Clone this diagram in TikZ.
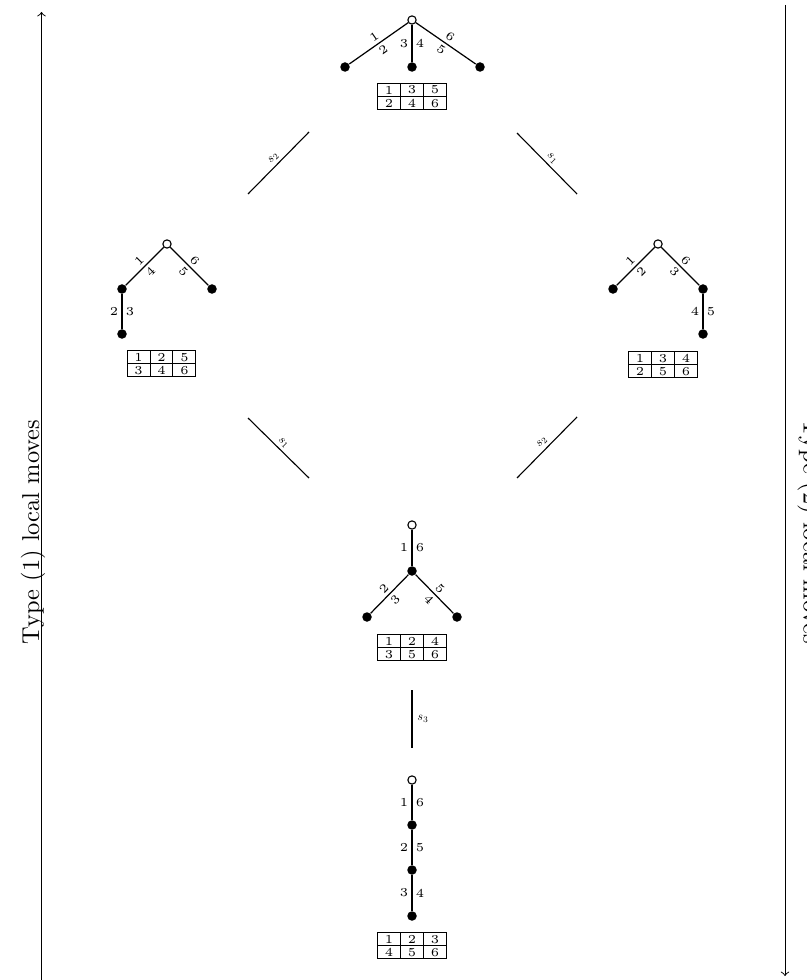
\documentclass[tikz,border=0pt]{standalone}
\usetikzlibrary{matrix}
\begin{document}
\begin{tikzpicture}[x=0.41pt,y=-0.41pt,
  wnode/.style={circle,draw,fill=white,inner sep=0pt,minimum size=3.4pt,line width=0.45pt},
  bnode/.style={circle,fill=black,inner sep=0pt,minimum size=3.9pt},
  tedge/.style={line width=0.5pt},
  lab/.style={font=\tiny,inner sep=1.3pt},
  movel/.style={line width=0.45pt},
  mlab/.style={inner sep=1.2pt},
  tab/.style={matrix of nodes,anchor=north,inner sep=0pt,outer sep=0pt,
    nodes={draw,line width=0.4pt,minimum width=9.4pt,minimum height=5.4pt,inner sep=0pt,font=\tiny,anchor=center},
    column sep=-0.4pt,row sep=-0.4pt},
  side/.style={->,line width=0.4pt}
]
\useasboundingbox (0,0) rectangle (806,980);
\newcommand{\mv}[1]{\scalebox{0.5}{$s_{#1}$}}

% ---------- top tree
\node[wnode] (a0) at (412,20) {};
\node[bnode] (a1) at (345,67) {};
\node[bnode] (a2) at (412,67) {};
\node[bnode] (a3) at (480,67) {};
\draw[tedge] (a1) -- node[lab,sloped,above]{1} node[lab,sloped,below]{2} (a0);
\draw[tedge] (a0) -- node[lab,left]{3} node[lab,right]{4} (a2);
\draw[tedge] (a0) -- node[lab,sloped,above]{6} node[lab,sloped,below]{5} (a3);
\matrix[tab] (ta) at (412,83) {1&3&5\\2&4&6\\};

% ---------- left tree
\node[wnode] (b0) at (167,244) {};
\node[bnode] (b1) at (122,289) {};
\node[bnode] (b2) at (212,289) {};
\node[bnode] (b3) at (122,334) {};
\draw[tedge] (b1) -- node[lab,sloped,above]{1} node[lab,sloped,below]{4} (b0);
\draw[tedge] (b0) -- node[lab,sloped,above]{6} node[lab,sloped,below]{5} (b2);
\draw[tedge] (b1) -- node[lab,left]{2} node[lab,right]{3} (b3);
\matrix[tab] (tb) at (161.5,350) {1&2&5\\3&4&6\\};

% ---------- right tree
\node[wnode] (c0) at (658,244) {};
\node[bnode] (c1) at (613,289) {};
\node[bnode] (c2) at (703,289) {};
\node[bnode] (c3) at (703,334) {};
\draw[tedge] (c1) -- node[lab,sloped,above]{1} node[lab,sloped,below]{2} (c0);
\draw[tedge] (c0) -- node[lab,sloped,above]{6} node[lab,sloped,below]{3} (c2);
\draw[tedge] (c2) -- node[lab,left]{4} node[lab,right]{5} (c3);
\matrix[tab] (tc) at (663,351) {1&3&4\\2&5&6\\};

% ---------- middle tree
\node[wnode] (d0) at (412,525) {};
\node[bnode] (d1) at (412,571) {};
\node[bnode] (d2) at (367,617) {};
\node[bnode] (d3) at (457,617) {};
\draw[tedge] (d0) -- node[lab,left]{1} node[lab,right]{6} (d1);
\draw[tedge] (d2) -- node[lab,sloped,above]{2} node[lab,sloped,below]{3} (d1);
\draw[tedge] (d1) -- node[lab,sloped,above]{5} node[lab,sloped,below]{4} (d3);
\matrix[tab] (td) at (412,634) {1&2&4\\3&5&6\\};

% ---------- bottom tree
\node[wnode] (e0) at (412,780) {};
\node[bnode] (e1) at (412,825) {};
\node[bnode] (e2) at (412,870) {};
\node[bnode] (e3) at (412,916) {};
\draw[tedge] (e0) -- node[lab,left]{1} node[lab,right]{6} (e1);
\draw[tedge] (e1) -- node[lab,left]{2} node[lab,right]{5} (e2);
\draw[tedge] (e2) -- node[lab,left]{3} node[lab,right]{4} (e3);
\matrix[tab] (te) at (412,932) {1&2&3\\4&5&6\\};

% ---------- moves
\coordinate (m1a) at (248,194); \coordinate (m1b) at (309,132);
\coordinate (m2a) at (517,133); \coordinate (m2b) at (577,194);
\coordinate (m3a) at (248,418); \coordinate (m3b) at (309,478);
\coordinate (m4a) at (517,478); \coordinate (m4b) at (577,417);
\coordinate (m5a) at (412,690); \coordinate (m5b) at (412,748);
\draw[movel] (m1a) -- node[mlab,sloped,above]{\mv{2}} (m1b);
\draw[movel] (m2a) -- node[mlab,sloped,above]{\mv{1}} (m2b);
\draw[movel] (m3a) -- node[mlab,sloped,above]{\mv{1}} (m3b);
\draw[movel] (m4a) -- node[mlab,sloped,above]{\mv{2}} (m4b);
\draw[movel] (m5a) -- node[mlab,right,inner sep=2pt]{\mv{3}} (m5b);

% ---------- side arrows
\coordinate (la) at (41.5,980); \coordinate (lb) at (41.5,12);
\coordinate (ra) at (785,5); \coordinate (rb) at (785,976);
\draw[side] (la) -- (lb);
\draw[side] (ra) -- (rb);
\node[rotate=90] (l1) at (33,532) {Type (1) local moves};
\node[rotate=-90,anchor=south] (l2) at (789,532) {Type (2) local moves};
\end{tikzpicture}
\end{document}
